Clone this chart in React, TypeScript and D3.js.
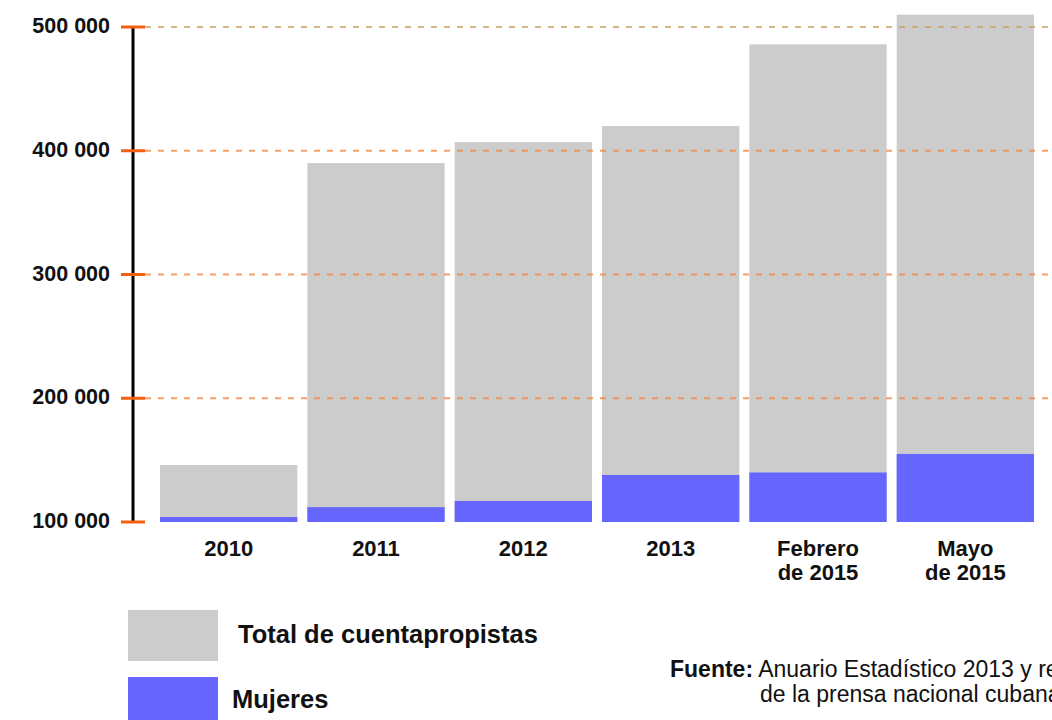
import React from "react";
import * as d3 from "d3";

const categories: string[][] = [
  ["2010"],
  ["2011"],
  ["2012"],
  ["2013"],
  ["Febrero", "de 2015"],
  ["Mayo", "de 2015"],
];
const totalValues = [146000, 390000, 407000, 420000, 486000, 510000];
const womenValues = [104000, 112000, 117000, 138000, 140000, 155000];
const yTicks = [100000, 200000, 300000, 400000, 500000];
const legendLabels = ["Total de cuentapropistas", "Mujeres"];

const W = 1052;
const H = 720;
const FONT = "'Liberation Sans', Arial, sans-serif";
const GREY = "#cccccc";
const BLUE = "#6666ff";

export default function App() {
  const y = d3.scaleLinear().domain([100000, 500000]).range([522, 27]);
  const x = d3
    .scaleBand<number>()
    .domain(d3.range(categories.length))
    .range([160, 1034])
    .paddingInner(0.068)
    .paddingOuter(0);
  const fmt = (v: number) => d3.format(",")(v).replace(/,/g, " ");

  return (
    <svg
      width={W}
      height={H}
      style={{ position: "absolute", left: 0, top: 0, background: "#fff", overflow: "hidden" }}
      fontFamily={FONT}
    >
      {/* bars */}
      {totalValues.map((v, i) => (
        <rect
          key={"t" + i}
          x={x(i)}
          y={y(v)}
          width={x.bandwidth()}
          height={y(100000) - y(v)}
          fill={GREY}
        />
      ))}
      {womenValues.map((v, i) => (
        <rect
          key={"w" + i}
          x={x(i)}
          y={y(v)}
          width={x.bandwidth()}
          height={y(100000) - y(v)}
          fill={BLUE}
        />
      ))}
      {/* gridlines */}
      {yTicks.slice(1).map((t, i) => (
        <line
          key={"g" + t}
          x1={145}
          x2={W}
          y1={y(t)}
          y2={y(t)}
          stroke={i === yTicks.length - 2 ? "#c9a463" : "#f08a40"}
          strokeOpacity={0.8}
          strokeWidth={2}
          strokeDasharray="6 7"
        />
      ))}
      {/* axis */}
      <line x1={133} x2={133} y1={y(500000)} y2={y(100000)} stroke="#000" strokeWidth={3} />
      {yTicks.map((t) => (
        <g key={"tk" + t}>
          <line x1={121} x2={145} y1={y(t)} y2={y(t)} stroke="#f06010" strokeWidth={3} />
          <text
            x={110}
            y={y(t) + 6}
            textAnchor="end"
            fontSize={21.5}
            fontWeight="bold"
            fill="#111"
          >
            {fmt(t)}
          </text>
        </g>
      ))}
      {/* category labels */}
      {categories.map((lines, i) => (
        <text
          key={"c" + i}
          x={(x(i) as number) + x.bandwidth() / 2}
          y={556}
          textAnchor="middle"
          fontSize={22}
          fontWeight="bold"
          fill="#111"
        >
          {lines.map((l, j) => (
            <tspan key={j} x={(x(i) as number) + x.bandwidth() / 2} dy={j === 0 ? 0 : 24}>
              {l}
            </tspan>
          ))}
        </text>
      ))}
      {/* legend */}
      <rect x={128} y={610} width={90} height={51} fill={GREY} />
      <text x={238} y={643} fontSize={25.5} fontWeight="bold" fill="#111">
        {legendLabels[0]}
      </text>
      <rect x={128} y={677} width={90} height={50} fill={BLUE} />
      <text x={232} y={708} fontSize={25.5} fontWeight="bold" fill="#111">
        {legendLabels[1]}
      </text>
      {/* source */}
      <text x={670} y={677} fontSize={23} fill="#111">
        <tspan fontWeight="bold">Fuente:</tspan>
        <tspan> Anuario Estadístico 2013 y reportes</tspan>
      </text>
      <text x={760} y={702} fontSize={23} fill="#111">
        de la prensa nacional cubana.
      </text>
    </svg>
  );
}
